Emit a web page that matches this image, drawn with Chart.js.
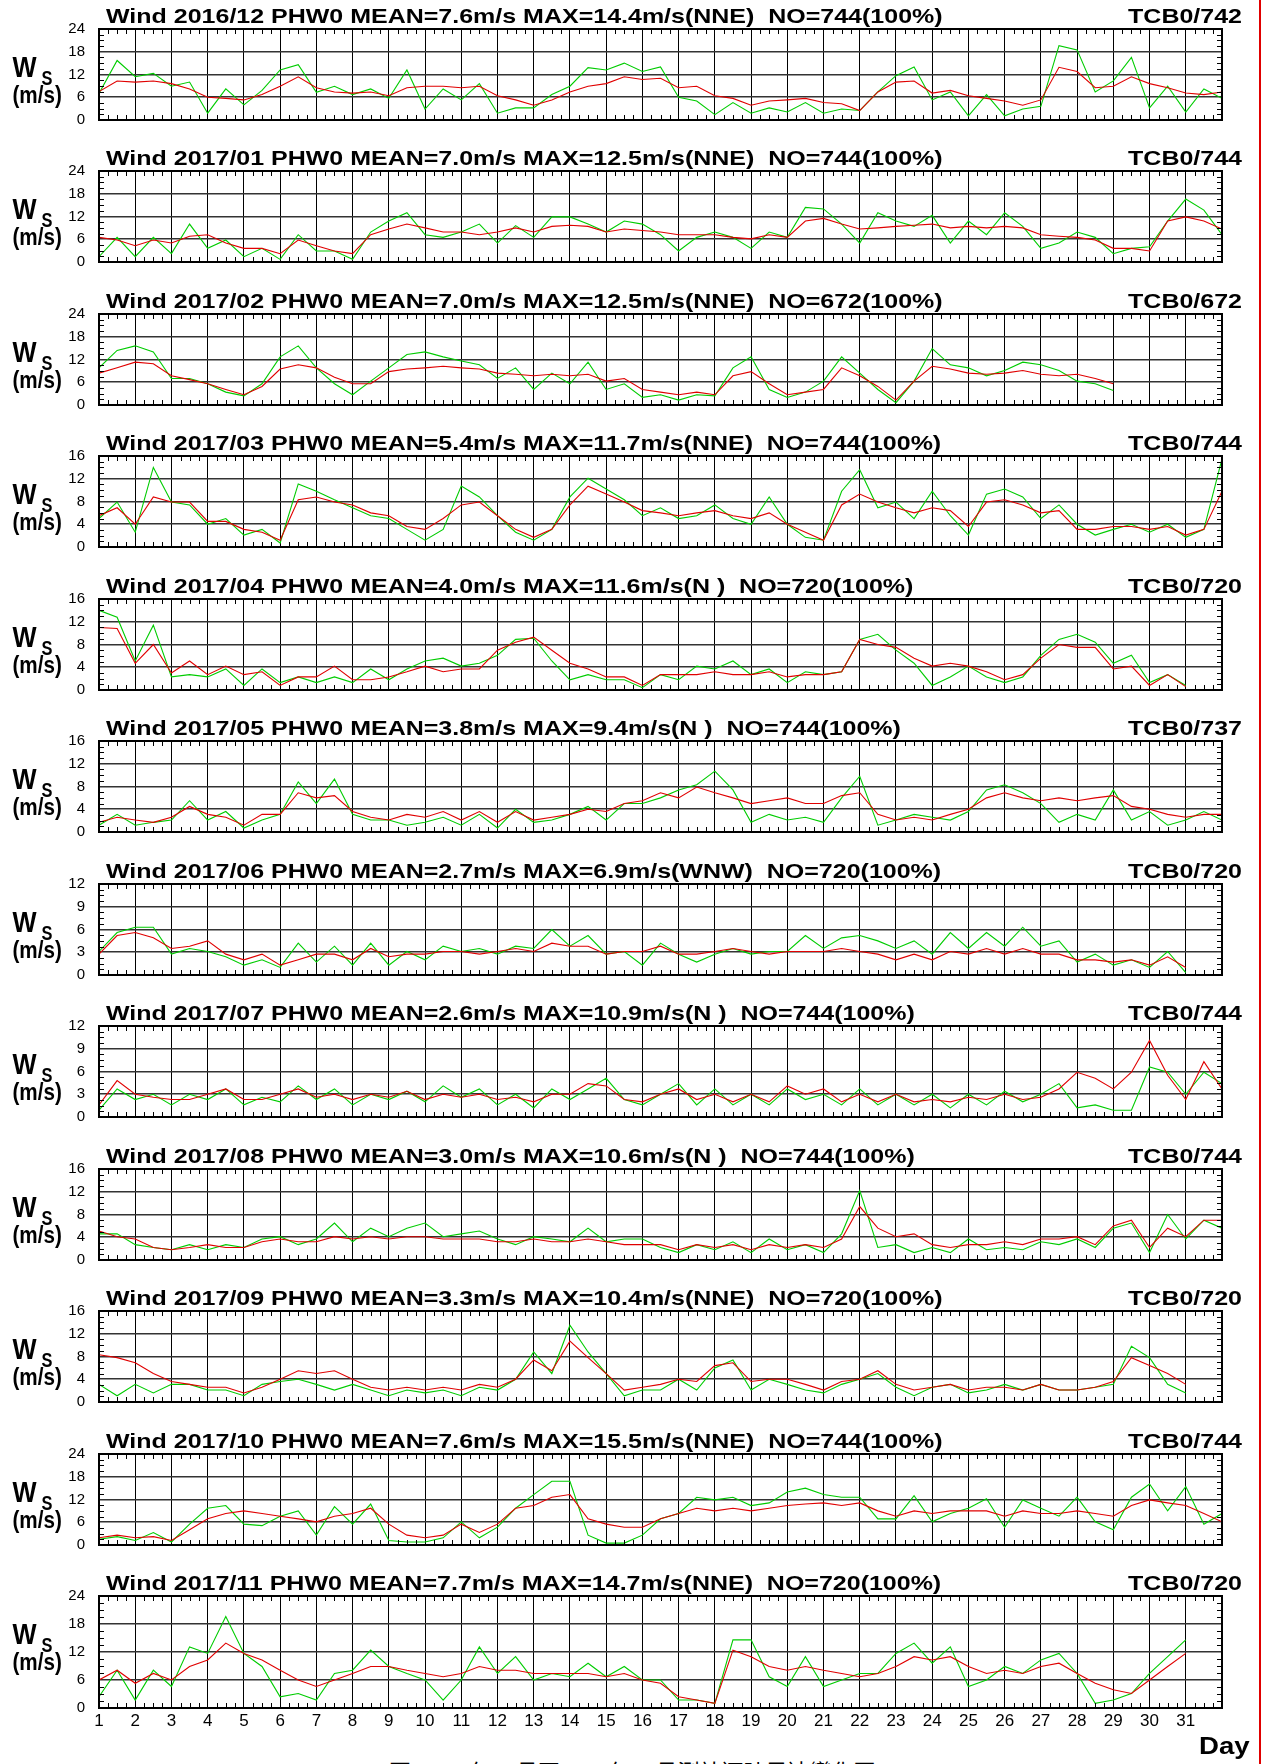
<!DOCTYPE html>
<html>
<head>
<meta charset="utf-8">
<title>Wind PHW0 monthly</title>
<script src="https://cdn.jsdelivr.net/npm/chart.js@4.4.1/dist/chart.umd.min.js"></script>
<style>
    html, body { margin: 0; padding: 0; background: #fff; }
    body { width: 1263px; height: 1764px; position: relative; overflow: hidden; }
    canvas.panel { position: absolute; left: 0; }
    #edge { position: absolute; left: 1259px; top: 0; width: 2px; height: 1764px; background: #e00000; }
    #caption { position: absolute; left: 389px; top: 1759px; font: 22px "Noto Sans CJK TC", sans-serif; color: #000; white-space: pre; line-height: 1; }
</style>
</head>
<body>
<div id="edge"></div>
<div id="caption">圖  2016年12月至2017年11月測站逐時風速變化圖</div>
<script>
// Monthly wind speed panels (hourly record, read every 12 h from the plot)

const months = ['2016/12', '2017/01', '2017/02', '2017/03', '2017/04', '2017/05', '2017/06', '2017/07', '2017/08', '2017/09', '2017/10', '2017/11'];
const meanSpeed = ['7.6', '7.0', '7.0', '5.4', '4.0', '3.8', '2.7', '2.6', '3.0', '3.3', '7.6', '7.7'];
const maxSpeed = ['14.4', '12.5', '12.5', '11.7', '11.6', '9.4', '6.9', '10.9', '10.6', '10.4', '15.5', '14.7'];
const maxDir = ['NNE', 'NNE', 'NNE', 'NNE', 'N ', 'N ', 'WNW', 'N ', 'N ', 'NNE', 'NNE', 'NNE'];
const obsCount = [744, 744, 672, 744, 720, 744, 720, 744, 744, 720, 744, 720];
const tcbCount = [742, 744, 672, 744, 720, 737, 720, 744, 744, 720, 744, 720];
const yMax = [24, 24, 24, 16, 16, 16, 12, 12, 16, 16, 24, 24];
const yStep = [6, 6, 6, 4, 4, 4, 3, 3, 4, 4, 6, 6];
const hoursAxis = 744;   // day 1 .. day 32
const sampleStep = 12;   // hours between read values

// green series
const dec16Green = [7, 15.7, 11.4, 12.3, 8.9, 10, 1.8, 8.2, 4, 7.8, 13.2, 14.6, 7.3, 8.9, 6.7, 8.2, 5.7, 13.2, 2.9, 8.2, 5.3, 9.6, 1.8, 3.2, 3.2, 6.7, 8.9, 13.8, 13.2, 15, 12.8, 14, 6, 5, 1.4, 4.6, 1.8, 3.2, 2.1, 4.6, 1.8, 2.9, 2.5, 7.4, 11.7, 14, 5.3, 7.4, 1.1, 6.7, 1.1, 2.9, 3.6, 19.6, 18.5, 7.4, 10.3, 16.5, 3.2, 8.9, 2.1, 8.2, 5.7];
const jan17Green = [1.4, 6.5, 1.4, 6.5, 2.2, 10, 3.6, 5.8, 1.4, 3.6, 0.7, 7.2, 2.9, 2.9, 0.7, 7.9, 10.8, 13, 7.2, 6.5, 7.9, 10, 5, 9.6, 6.5, 11.9, 11.9, 10, 7.9, 10.8, 10, 7.2, 2.9, 6.5, 7.9, 6.5, 3.6, 7.9, 6.5, 14.4, 14, 10, 5, 13, 10.8, 9.4, 12.3, 5, 10.8, 7.2, 13, 9.4, 3.6, 5, 7.9, 6.5, 2.2, 3.6, 4, 10.8, 16.6, 13.7, 7.2];
const feb17Green = [9.8, 14.4, 15.6, 14, 7, 7, 5.6, 3.4, 2.4, 5.6, 12.7, 15.6, 9.8, 5.6, 2.7, 6.3, 9.8, 13.3, 14, 12.7, 11.6, 10.6, 7, 9.8, 4.1, 8.4, 5.6, 11.3, 4.1, 5.6, 2, 2.7, 1.3, 2.7, 2.4, 9.8, 12.7, 4.1, 2, 3.4, 6.3, 12.7, 8.4, 4.1, 0.6, 6.3, 14.9, 10.6, 9.8, 7.7, 9.1, 11.3, 10.6, 9.1, 6.3, 5.6, 3.8];
const mar17Green = [5, 7.9, 2.6, 14, 7.9, 7.4, 4, 5, 2.1, 3.1, 0.7, 11.1, 9.8, 8.3, 6.9, 5.5, 5, 3.1, 1.2, 3.1, 10.7, 8.8, 5.5, 2.6, 1.2, 3.1, 8.8, 12.1, 10.2, 8.3, 5.5, 6.9, 5, 5.5, 7.4, 5, 4, 8.8, 4, 1.7, 1.2, 9.8, 13.6, 6.9, 7.9, 5, 9.8, 5.5, 2.1, 9.3, 10.2, 8.8, 5, 7.4, 4, 2.1, 3.1, 4, 2.6, 4, 1.7, 3.1, 15.5];
const apr17Green = [14, 12.8, 5.1, 11.4, 2.3, 2.7, 2.3, 3.7, 0.8, 3.7, 1.3, 2.3, 1.3, 2.3, 1.3, 3.7, 1.8, 3.7, 5.1, 5.6, 4.2, 4.7, 6.1, 8.9, 9.1, 5.1, 1.8, 2.7, 1.8, 1.8, 0.4, 2.7, 1.8, 4.2, 3.7, 5.1, 2.7, 3.7, 1.3, 3.2, 2.7, 3.2, 8.9, 9.8, 7, 4.7, 0.8, 2.3, 4.2, 2.3, 1.3, 2.3, 6.1, 8.9, 9.8, 8.4, 4.7, 6.1, 1.3, 2.7, 0.8];
const may17Green = [1.2, 3.1, 1.2, 1.7, 2.1, 5.5, 2.1, 3.6, 0.7, 2.1, 3.1, 8.8, 5, 9.3, 3.1, 2.1, 2.1, 1.2, 1.7, 2.6, 1.2, 3.1, 0.7, 4, 1.7, 2.1, 3.1, 4.5, 2.1, 5, 5, 6, 7.4, 8.3, 10.7, 7.4, 1.7, 3.1, 2.1, 2.6, 1.7, 6, 9.8, 1.2, 2.1, 3.1, 2.6, 2.1, 3.6, 7.4, 8.3, 6.9, 5, 1.7, 3.1, 2.1, 7.4, 2.1, 3.6, 1.2, 2.1, 3.6, 2.1];
const jun17Green = [3.1, 5.6, 6.3, 6.3, 2.75, 3.5, 3.1, 2.4, 1.3, 2, 1, 4.2, 1.7, 3.8, 1.3, 4.2, 1.3, 3.1, 2, 3.8, 3.1, 3.5, 2.75, 3.8, 3.5, 6, 3.8, 5.2, 2.75, 3.1, 1.3, 4.2, 2.75, 1.7, 2.75, 3.5, 2.75, 3.1, 3.1, 5.2, 3.5, 4.9, 5.2, 4.5, 3.5, 4.5, 2.75, 5.6, 3.5, 5.6, 3.8, 6.3, 3.8, 4.5, 1.7, 2.75, 1.3, 2, 1, 3.1, 0.3];
const jul17Green = [0.9, 3.7, 2.3, 3, 1.6, 3, 2.3, 3.7, 1.6, 2.6, 2, 4.1, 2.3, 3.7, 1.6, 3, 2.3, 3.4, 2, 4.1, 2.6, 3.7, 1.6, 3, 1.2, 3.7, 2.3, 3.7, 5.1, 2.3, 1.6, 3, 4.4, 1.6, 3.7, 1.6, 3, 1.6, 3.7, 2.3, 3, 1.6, 3.7, 1.6, 3, 1.6, 3, 1.2, 3, 1.6, 3.4, 2, 3, 4.4, 1.2, 1.6, 0.9, 0.9, 6.6, 5.9, 3, 5.9, 4.4];
const aug17Green = [4.6, 4.6, 2.7, 2.2, 1.8, 2.7, 1.8, 2.7, 2.2, 3.7, 4.1, 2.7, 3.7, 6.5, 3.2, 5.6, 4.1, 5.6, 6.5, 4.1, 4.6, 5.1, 3.7, 2.7, 4.1, 3.7, 3.2, 5.6, 3.2, 3.7, 3.7, 2.2, 1.3, 2.7, 1.8, 3.2, 1.3, 3.7, 1.8, 2.7, 1.3, 4.6, 12.2, 2.2, 2.7, 1.3, 2.2, 1.3, 3.7, 1.8, 2.2, 1.8, 3.2, 2.7, 3.7, 2.2, 5.6, 6.5, 1.3, 8, 3.7, 7, 5.6];
const sep17Green = [3.1, 1.1, 3.1, 1.6, 3.1, 3.1, 2.1, 2.1, 1.1, 3.1, 3.6, 4, 3.1, 2.1, 3.1, 2.1, 1.1, 2.1, 1.6, 2.1, 1.1, 2.6, 2.1, 4, 8.8, 5, 13.5, 8.8, 5, 1.1, 2.1, 2.1, 4, 2.1, 6, 7.4, 2.1, 4, 3.1, 2.1, 1.6, 3.1, 4, 5, 2.6, 1.1, 2.6, 3.1, 1.6, 2.1, 3.1, 2.1, 3.1, 2.1, 2.1, 2.6, 3.1, 9.8, 7.8, 3.1, 1.6];
const oct17Green = [1.5, 2.2, 1.2, 3.3, 0.8, 5.5, 9.7, 10.4, 5.5, 5.1, 7.6, 9, 2.6, 10.1, 5.5, 10.8, 1.2, 0.8, 0.8, 1.9, 6.1, 1.9, 4.7, 9.7, 13.3, 16.8, 16.8, 2.6, 0.5, 0.5, 2.6, 6.9, 8.3, 12.6, 11.9, 12.6, 10.4, 11.1, 14, 15, 13.3, 12.6, 12.6, 6.9, 6.9, 13, 6.1, 8.3, 9.7, 12.2, 4.7, 11.9, 9.7, 7.6, 12.6, 6.1, 4, 12.6, 16.1, 9, 15.4, 5.5, 8.3];
const nov17Green = [2.4, 8.1, 1.7, 8.1, 4.6, 13.1, 11.7, 19.6, 11.7, 8.9, 2.4, 3.1, 1.7, 7.4, 8.1, 12.4, 8.9, 7.4, 6, 1.7, 6, 13.1, 7.4, 11, 6, 7.4, 6.7, 9.6, 6.7, 8.9, 6, 6, 1.7, 1.7, 1, 14.6, 14.6, 6.7, 4.6, 11, 4.6, 6, 7.4, 7.4, 11.7, 13.9, 9.6, 13.1, 4.6, 6, 8.9, 7.4, 10.3, 11.7, 7.4, 1, 1.7, 3.1, 7.4, 11, 14.6];

// red series
const dec16Red = [7.5, 10.3, 10, 10.3, 9.6, 8.2, 6, 5.7, 5.3, 6.7, 8.9, 11.4, 8.5, 7.4, 7.1, 7.4, 6.4, 8.5, 8.9, 8.9, 8.5, 8.9, 6.4, 5.3, 3.9, 5.3, 7.4, 8.9, 9.6, 11.4, 10.7, 11, 8.5, 8.9, 6.4, 5.7, 3.9, 5, 5.3, 5.7, 4.6, 4.3, 2.5, 7.4, 10, 10.3, 7.1, 7.8, 6.4, 5.7, 5, 3.9, 5.3, 13.9, 12.8, 8.5, 8.9, 11.4, 9.6, 8.5, 7.1, 6.7, 7.4];
const jan17Red = [6.5, 5.8, 4.3, 5.8, 5, 6.8, 7.2, 5, 3.6, 3.6, 2.2, 5.8, 4.3, 2.9, 2.2, 7.2, 8.7, 10, 9, 7.9, 7.9, 7.2, 7.9, 9, 7.9, 9.4, 9.7, 9.4, 7.9, 8.7, 8.3, 7.9, 7.2, 7.2, 7.2, 6.5, 6.1, 7.2, 6.5, 10.8, 11.5, 10, 8.7, 9, 9.4, 9.7, 10, 9, 9.4, 9, 9.4, 9, 7.2, 6.8, 6.5, 5.8, 3.6, 3.6, 2.9, 10.8, 11.9, 10.8, 8.7];
const feb17Red = [8.4, 9.8, 11.3, 10.9, 7.7, 6.7, 5.6, 4.1, 2.7, 4.9, 9.5, 10.6, 9.8, 7.3, 5.6, 5.6, 8.8, 9.5, 9.8, 10.2, 9.8, 9.5, 8.4, 8.1, 7.7, 8.1, 7.7, 8.1, 6.3, 7, 4.1, 3.4, 2.7, 3.4, 2.7, 7.7, 8.8, 5.6, 2.7, 3.4, 4.1, 9.8, 7.7, 4.9, 1.3, 6.3, 10.2, 9.5, 8.4, 8.1, 8.4, 9.1, 8.1, 7.7, 8.1, 7, 5.6];
const mar17Red = [5.5, 6.9, 4, 8.8, 7.9, 7.9, 4.5, 4.5, 3.1, 2.6, 1.2, 8.3, 8.8, 7.9, 7.4, 6, 5.5, 3.6, 3.1, 5, 7.4, 7.9, 5.5, 3.1, 1.7, 3.1, 7.4, 10.7, 9.3, 7.9, 6.4, 6, 5.5, 6, 6.4, 5.5, 5, 6, 4, 2.6, 1.2, 7.4, 9.3, 7.9, 6.9, 6, 6.9, 6.4, 3.6, 7.9, 8.3, 7.4, 6, 6.4, 3.1, 3.1, 3.6, 3.6, 3.1, 3.6, 2.1, 3.1, 9.8];
const apr17Red = [11, 10.8, 4.7, 8, 3, 5.1, 2.7, 4.2, 2.7, 3.2, 0.8, 2.3, 2.3, 4.2, 1.8, 1.8, 2.3, 3.2, 4.2, 3.2, 3.7, 3.7, 7, 8.4, 9.3, 7, 4.7, 3.7, 2.3, 2.3, 0.8, 2.7, 2.7, 2.7, 3.2, 2.7, 2.7, 3.2, 2.3, 2.7, 2.7, 3.2, 8.9, 8, 7.5, 5.6, 4.2, 4.7, 4.2, 3.2, 1.8, 2.7, 5.6, 8, 7.5, 7.5, 3.7, 4.2, 0.8, 2.7, 0.6];
const may17Red = [1.7, 2.6, 2.1, 1.7, 2.6, 4.5, 3.1, 2.6, 1.2, 3.1, 3.1, 6.9, 6, 6.4, 3.6, 2.6, 2.1, 3.1, 2.6, 3.6, 2.1, 3.6, 1.7, 3.6, 2.1, 2.6, 3.1, 4, 3.6, 5, 5.5, 6.9, 6, 7.9, 6.9, 6, 5, 5.5, 6, 5, 5, 6.4, 6.9, 3.1, 2.1, 2.6, 2.1, 3.1, 4, 6, 6.9, 6, 5.5, 6, 5.5, 6, 6.4, 4.5, 4, 3.1, 2.6, 3.1, 3.1];
const jun17Red = [2.75, 5.2, 5.6, 4.9, 3.5, 3.8, 4.5, 2.75, 2, 2.75, 1.3, 2, 2.75, 2.75, 2, 3.5, 2.4, 2.75, 2.75, 3.1, 3.1, 2.75, 3.1, 3.5, 3.1, 4.2, 3.8, 3.8, 2.75, 3.1, 3.1, 3.8, 2.75, 2.75, 3.1, 3.5, 3.1, 2.75, 3.1, 3.1, 3.1, 3.5, 3.1, 2.75, 2, 2.75, 2, 3.1, 2.75, 3.5, 2.75, 3.5, 2.75, 2.75, 2, 2, 1.7, 2, 1.3, 2.4, 1];
const jul17Red = [1.6, 4.8, 3, 2.6, 2.3, 2.3, 3, 3.7, 2.3, 2.3, 3, 3.7, 2.6, 3, 2.3, 3, 2.6, 3.4, 2.3, 3, 2.6, 3, 2.3, 2.6, 2, 3, 3, 4.4, 4.1, 2.3, 2, 3, 3.7, 2.3, 3, 2, 3, 2, 4.1, 3, 3.7, 2, 3, 2, 3, 2, 2.3, 2, 2.6, 2.3, 3, 2.3, 2.6, 3.7, 5.9, 5.1, 3.7, 5.9, 10.1, 5.5, 2.3, 7.3, 3.7];
const aug17Red = [5.1, 4.1, 3.7, 2.2, 1.8, 2.2, 2.7, 2.2, 2.2, 3.2, 3.7, 3.2, 3.2, 4.1, 3.7, 4.1, 3.7, 4.1, 4.1, 3.7, 3.7, 3.7, 3.2, 3.2, 3.7, 3.2, 3.2, 3.7, 3.2, 2.7, 2.7, 2.7, 1.8, 2.7, 2.2, 2.7, 1.8, 2.7, 2.2, 2.7, 2.2, 3.7, 9.4, 5.6, 4.1, 4.6, 2.7, 2.2, 2.7, 2.7, 3.2, 2.7, 3.7, 3.7, 4.1, 2.7, 6, 7, 2.2, 5.6, 4.1, 7, 7];
const sep17Red = [8.3, 7.8, 6.9, 5, 3.6, 3.1, 2.6, 2.6, 1.6, 2.6, 4, 5.5, 5, 5.5, 4, 2.6, 2.1, 2.6, 2.1, 2.6, 2.1, 3.1, 2.6, 4, 7.4, 5.5, 10.7, 7.8, 5, 2.1, 2.6, 3.1, 4, 3.6, 6.4, 6.9, 3.6, 4, 4, 3.1, 2.1, 3.6, 4, 5.5, 3.1, 2.1, 2.6, 3.1, 2.1, 2.6, 2.6, 2.1, 3.1, 2.1, 2.1, 2.6, 3.6, 7.8, 6.4, 5, 3.1];
const oct17Red = [1.9, 2.6, 1.9, 2.2, 1.2, 4, 6.9, 8.3, 9, 8.3, 7.6, 6.9, 6.1, 7.6, 8.3, 9.7, 5.5, 2.6, 1.9, 2.6, 5.5, 3.3, 5.5, 9.7, 10.4, 12.6, 13.3, 6.9, 5.5, 4.7, 4.7, 6.9, 8.3, 9.7, 9, 9.7, 9, 9.7, 10.4, 10.8, 11.1, 10.4, 11.1, 9, 7.6, 9, 8.3, 9, 9, 9, 7.6, 9, 8.3, 8.3, 9, 8.3, 7.6, 10.4, 11.9, 11.1, 10.4, 8.3, 6.1];
const nov17Red = [6, 8.1, 5.3, 7.4, 6, 8.9, 10.3, 13.9, 11.7, 10.3, 8.1, 6, 4.6, 6, 7.4, 8.9, 8.9, 8.1, 7.4, 6.7, 7.4, 8.9, 8.1, 8.1, 7.4, 7.4, 7.4, 7.4, 6.7, 7.4, 6, 5.3, 2.4, 1.7, 1, 12.4, 11, 8.9, 8.1, 8.9, 8.1, 7.4, 6.7, 7.4, 8.9, 11, 10.3, 11, 8.9, 7.4, 8.1, 7.4, 8.9, 9.6, 7.4, 5.3, 3.9, 3.1, 6, 8.9, 11.7];

const greenSeries = [dec16Green, jan17Green, feb17Green, mar17Green, apr17Green, may17Green, jun17Green, jul17Green, aug17Green, sep17Green, oct17Green, nov17Green];
const redSeries = [dec16Red, jan17Red, feb17Red, mar17Red, apr17Red, may17Red, jun17Red, jul17Red, aug17Red, sep17Red, oct17Red, nov17Red];

// Layout (page pixels)
const firstTop = 29;        // top edge of first plot box
const panelPitch = 142.45;  // distance between panels
const plotHeight = 112;
const headRoom = 30;        // canvas space above plot box

const FONT = "'Liberation Sans', Arial, Helvetica, sans-serif";

// draw text squeezed or widened horizontally
function stretchText(ctx, text, x, y, font, sx, align) {
    ctx.save();
    ctx.font = font;
    ctx.fillStyle = '#000';
    ctx.textAlign = align || 'left';
    ctx.textBaseline = 'alphabetic';
    ctx.translate(x, y);
    ctx.scale(sx, 1);
    ctx.fillText(text, 0, 0);
    ctx.restore();
}

// frame, minor ticks and panel texts
const panelDecor = {
    id: 'panelDecor',
    afterDraw(chart, args, opts) {
        const ctx = chart.ctx;
        const a = chart.chartArea;
        const xs = chart.scales.x;
        const ys = chart.scales.y;

        ctx.save();
        ctx.strokeStyle = '#000';
        ctx.lineWidth = 1;
        ctx.beginPath();
        for (let h = 6; h < hoursAxis; h += 6) {
            if (h % 24 === 0) continue;
            const px = Math.round(xs.getPixelForValue(h)) + 0.5;
            ctx.moveTo(px, a.top);
            ctx.lineTo(px, a.top + 5);
            ctx.moveTo(px, a.bottom);
            ctx.lineTo(px, a.bottom - 5);
        }
        const q = opts.step / 4;
        for (let j = 1; j * q < opts.max; j++) {
            if (j % 4 === 0) continue;
            const py = Math.round(ys.getPixelForValue(j * q)) + 0.5;
            ctx.moveTo(a.left, py);
            ctx.lineTo(a.left + 5, py);
            ctx.moveTo(a.right, py);
            ctx.lineTo(a.right - 5, py);
        }
        ctx.stroke();

        ctx.lineWidth = 2;
        ctx.strokeRect(a.left, a.top, a.right - a.left, a.bottom - a.top);
        ctx.restore();

        // headings
        stretchText(ctx, opts.title, 106, a.top - 6, 'bold 21px ' + FONT, 1.19, 'left');
        stretchText(ctx, opts.tcb, 1242, a.top - 6, 'bold 21px ' + FONT, 1.19, 'right');

        // axis name Ws (m/s)
        stretchText(ctx, 'W', 12.5, a.top + 48, 'bold 30px ' + FONT, 0.85, 'left');
        stretchText(ctx, 'S', 41.5, a.top + 55.5, 'bold 21px ' + FONT, 0.78, 'left');
        stretchText(ctx, '(m/s)', 12.5, a.top + 74, 'bold 24px ' + FONT, 0.86, 'left');

        if (opts.last) {
            stretchText(ctx, 'Day', 1199, a.bottom + 46, 'bold 23px ' + FONT, 1.2, 'left');
        }
    }
};

function toPoints(values) {
    return values.map((v, i) => ({ x: i * sampleStep, y: v }));
}

function buildPanel(k) {
    const last = k === months.length - 1;
    const top = Math.round(firstTop + k * panelPitch);
    const canvas = document.createElement('canvas');
    canvas.className = 'panel';
    const height = last ? 1764 - (top - headRoom) : headRoom + plotHeight + 2;
    canvas.width = 1263;
    canvas.height = height;
    canvas.style.top = (top - headRoom) + 'px';
    document.body.appendChild(canvas);

    const xAxisHeight = last ? 22 : 0;
    const bottomPad = height - headRoom - plotHeight - xAxisHeight;

    const title = 'Wind ' + months[k] + ' PHW0 MEAN=' + meanSpeed[k] + 'm/s MAX=' + maxSpeed[k] +
        'm/s(' + maxDir[k] + ')  NO=' + obsCount[k] + '(100%)';

    new Chart(canvas, {
        type: 'line',
        data: {
            datasets: [
                {
                    label: 'red',
                    data: toPoints(redSeries[k]),
                    borderColor: '#e00000',
                    borderWidth: 1.1,
                    pointRadius: 0,
                    tension: 0,
                    fill: false
                },
                {
                    label: 'green',
                    data: toPoints(greenSeries[k]),
                    borderColor: '#00cc00',
                    borderWidth: 1.1,
                    pointRadius: 0,
                    tension: 0,
                    fill: false
                }
            ]
        },
        options: {
            responsive: false,
            animation: false,
            devicePixelRatio: 1,
            events: [],
            layout: { padding: { left: 0, right: 41, top: headRoom, bottom: bottomPad } },
            plugins: {
                legend: { display: false },
                tooltip: { enabled: false },
                panelDecor: { title: title, tcb: 'TCB0/' + tcbCount[k], step: yStep[k], max: yMax[k], last: last }
            },
            scales: {
                x: {
                    type: 'linear',
                    min: 0,
                    max: hoursAxis,
                    ticks: {
                        display: last,
                        stepSize: 24,
                        autoSkip: false,
                        maxRotation: 0,
                        padding: 3,
                        color: '#000',
                        font: { family: FONT, size: 17 },
                        callback: v => (v < hoursAxis ? String(v / 24 + 1) : '')
                    },
                    grid: { color: '#000', lineWidth: 1, drawTicks: false },
                    border: { display: false },
                    afterFit: s => { s.height = xAxisHeight; }
                },
                y: {
                    min: 0,
                    max: yMax[k],
                    ticks: {
                        stepSize: yStep[k],
                        padding: 14,
                        color: '#000',
                        font: { family: FONT, size: 15 }
                    },
                    grid: { color: '#333', lineWidth: 1.6, drawTicks: false },
                    border: { display: false },
                    afterFit: s => { s.width = 99; }
                }
            }
        },
        plugins: [panelDecor]
    });
}

months.forEach((m, k) => buildPanel(k));
</script>
</body>
</html>
